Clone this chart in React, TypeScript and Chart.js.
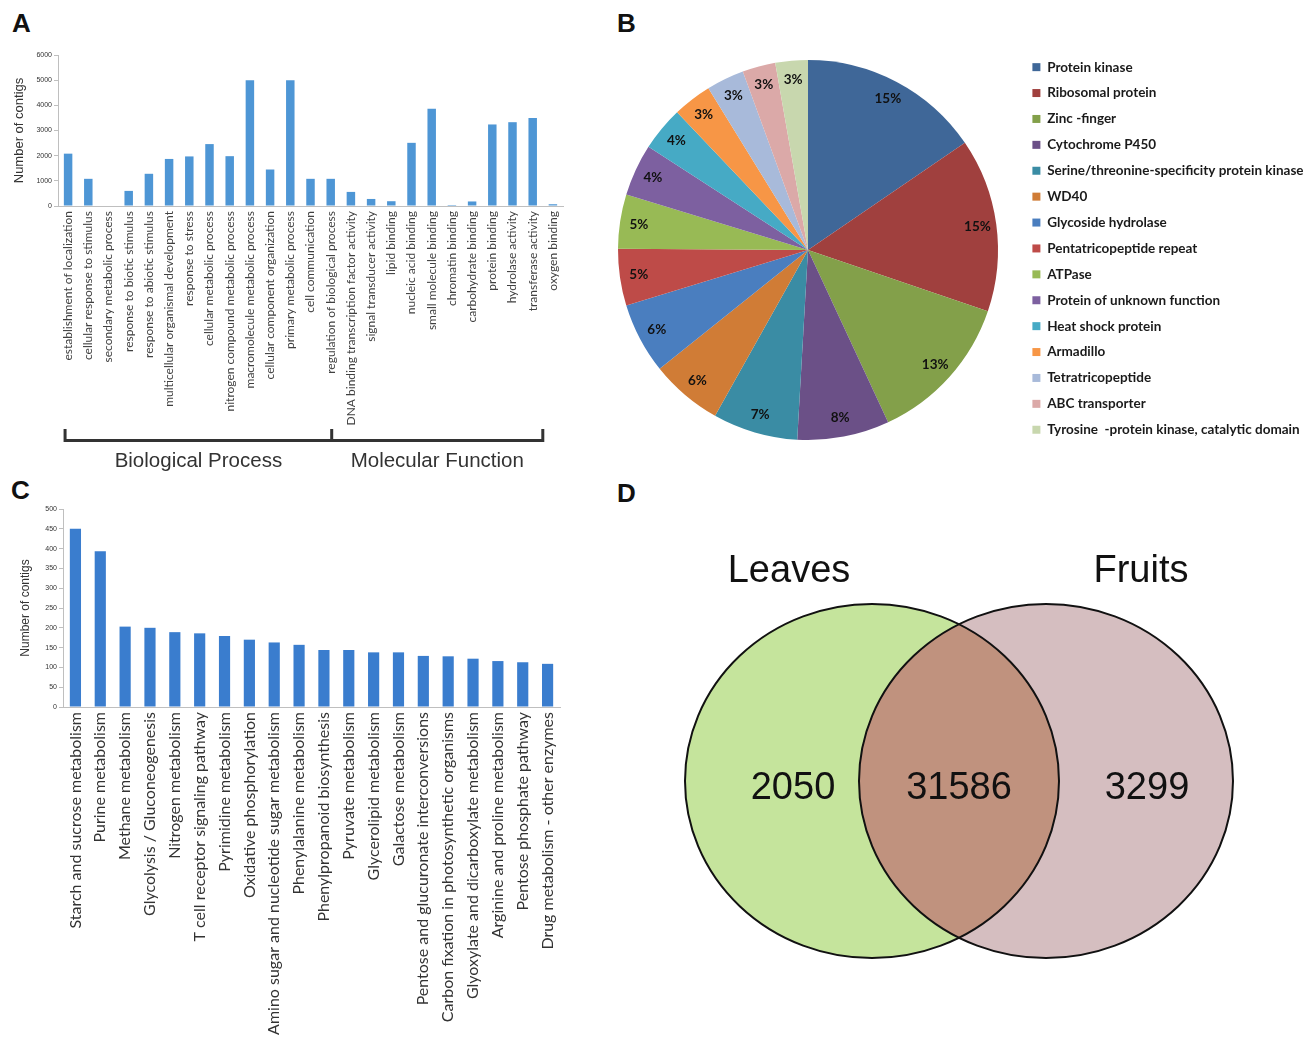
import React, { useEffect, useRef } from "react";
import { Chart, registerables } from "chart.js";

Chart.register(...registerables);

// ---------- Panel A: GO categories ----------
const goCategories = [
  "establishment of localization",
  "cellular response to stimulus",
  "secondary metabolic process",
  "response to biotic stimulus",
  "response to abiotic stimulus",
  "multicellular organismal development",
  "response to stress",
  "cellular metabolic process",
  "nitrogen compound metabolic process",
  "macromolecule metabolic process",
  "cellular component organization",
  "primary metabolic process",
  "cell communication",
  "regulation of biological process",
  "DNA binding transcription factor activity",
  "signal transducer activity",
  "lipid binding",
  "nucleic acid binding",
  "small molecule binding",
  "chromatin binding",
  "carbohydrate binding",
  "protein binding",
  "hydrolase activity",
  "transferase activity",
  "oxygen binding",
];
const goCounts = [
  2080, 1080, 0, 600, 1280, 1870, 1970, 2460, 1980, 5000, 1450, 5000, 1080,
  1080, 560, 280, 190, 2510, 3860, 40, 180, 3240, 3330, 3500, 70,
];
const goGroups = ["Biological Process", "Molecular Function"];
const goGroupSizes = [14, 11];
const goTicks = [0, 1000, 2000, 3000, 4000, 5000, 6000];

// ---------- Panel B: protein domains ----------
const domainNames = [
  "Protein kinase",
  "Ribosomal protein",
  "Zinc -finger",
  "Cytochrome P450",
  "Serine/threonine-specificity protein kinase",
  "WD40",
  "Glycoside hydrolase",
  "Pentatricopeptide repeat",
  "ATPase",
  "Protein of unknown function",
  "Heat shock protein",
  "Armadillo",
  "Tetratricopeptide",
  "ABC transporter",
  "Tyrosine  -protein kinase, catalytic domain",
];
const domainShares = [15.4, 14.7, 12.8, 7.8, 7.2, 6.1, 6.0, 4.8, 4.6, 4.4, 3.75, 3.3, 3.2, 2.8, 2.75];
const domainLabels = ["15%", "15%", "13%", "8%", "7%", "6%", "6%", "5%", "5%", "4%", "4%", "3%", "3%", "3%", "3%"];
const domainColors = [
  "#3F6798", "#A0403E", "#83A04A", "#6B5087", "#3A8CA4", "#D07C36", "#4A7EBF",
  "#BE4B48", "#98BA55", "#7D60A0", "#46AAC5", "#F79646", "#A8BADA", "#DBA9A8", "#C8D7AE",
];

// ---------- Panel C: KEGG pathways ----------
const keggPathways = [
  "Starch and sucrose metabolism",
  "Purine metabolism",
  "Methane metabolism",
  "Glycolysis / Gluconeogenesis",
  "Nitrogen metabolism",
  "T cell receptor signaling pathway",
  "Pyrimidine metabolism",
  "Oxidative phosphorylation",
  "Amino sugar and nucleotide sugar metabolism",
  "Phenylalanine metabolism",
  "Phenylpropanoid biosynthesis",
  "Pyruvate metabolism",
  "Glycerolipid metabolism",
  "Galactose metabolism",
  "Pentose and glucuronate interconversions",
  "Carbon fixation in photosynthetic organisms",
  "Glyoxylate and dicarboxylate metabolism",
  "Arginine and proline metabolism",
  "Pentose phosphate pathway",
  "Drug metabolism - other enzymes",
];
const keggCounts = [450, 393, 203, 200, 189, 186, 179, 170, 163, 157, 144, 144, 138, 138, 129, 128, 122, 116, 113, 109];

// ---------- Panel D: Venn ----------
const vennSets = ["Leaves", "Fruits"];
const vennCounts = [2050, 31586, 3299]; // leaves only, shared, fruits only

const VENN_RX = 187;
const VENN_RY = 177;
const LATO = "Lato, 'Liberation Sans', sans-serif";
const ARIAL = "'Liberation Sans', Arial, sans-serif";

const plainTick = (v: any) => String(v);

const goBracketPlugin = {
  id: "goBracket",
  afterDraw(chart: any) {
    const x = chart.scales.x;
    const ctx = chart.ctx;
    const base = chart.chartArea.bottom;
    const step = x.getPixelForValue(1) - x.getPixelForValue(0);
    const left = x.getPixelForValue(0) - 0.15 * step;
    const mid = x.getPixelForValue(goGroupSizes[0] - 1) + 0.05 * step;
    const right = x.getPixelForValue(goGroupSizes[0] + goGroupSizes[1] - 1) - 0.5 * step;
    const yTop = base + 223;
    const yBot = base + 236;
    ctx.save();
    ctx.strokeStyle = "#333";
    ctx.lineWidth = 3;
    ctx.beginPath();
    ctx.moveTo(left, yTop);
    ctx.lineTo(left, yBot);
    ctx.moveTo(mid, yTop);
    ctx.lineTo(mid, yBot);
    ctx.moveTo(right, yTop);
    ctx.lineTo(right, yBot);
    ctx.moveTo(left, yBot - 1.5);
    ctx.lineTo(right, yBot - 1.5);
    ctx.stroke();
    ctx.fillStyle = "#333";
    ctx.font = `20.5px ${ARIAL}`;
    ctx.textAlign = "center";
    ctx.textBaseline = "middle";
    ctx.fillText(goGroups[0], (left + mid) / 2, base + 255);
    ctx.fillText(goGroups[1], (mid + right) / 2, base + 255);
    ctx.restore();
  },
};

const pieLabelPlugin = {
  id: "pieLabels",
  afterDatasetsDraw(chart: any) {
    const ctx = chart.ctx;
    const meta = chart.getDatasetMeta(0);
    ctx.save();
    ctx.fillStyle = "#111";
    ctx.font = `bold 13.5px ${LATO}`;
    ctx.textAlign = "center";
    ctx.textBaseline = "middle";
    meta.data.forEach((arc: any, i: number) => {
      const p = arc.getProps(["x", "y", "startAngle", "endAngle", "outerRadius"], true);
      const a = (p.startAngle + p.endAngle) / 2;
      const r = p.outerRadius * 0.9;
      ctx.fillText(domainLabels[i], p.x + Math.cos(a) * r, p.y + Math.sin(a) * r);
    });
    ctx.restore();
  },
};

const vennFills = ["#C5E49C", "#D5BEC0"];
const vennOverlap = "#C0927E";

const vennPlugin = {
  id: "venn",
  afterDatasetsDraw(chart: any) {
    const ctx = chart.ctx;
    const [a, b] = chart.getDatasetMeta(0).data;
    const shape = (p: any) => {
      ctx.beginPath();
      ctx.ellipse(p.x, p.y, VENN_RX, VENN_RY, 0, 0, Math.PI * 2);
    };
    ctx.save();
    [a, b].forEach((p: any, i: number) => {
      shape(p);
      ctx.fillStyle = vennFills[i];
      ctx.fill();
    });
    ctx.save();
    shape(a);
    ctx.clip();
    shape(b);
    ctx.fillStyle = vennOverlap;
    ctx.fill();
    ctx.restore();
    ctx.lineWidth = 2;
    ctx.strokeStyle = "#111";
    [a, b].forEach((p: any) => {
      shape(p);
      ctx.stroke();
    });
    ctx.fillStyle = "#111";
    ctx.textAlign = "center";
    ctx.textBaseline = "middle";
    ctx.font = `38px ${ARIAL}`;
    ctx.fillText(vennSets[0], a.x - 83, a.y - 209);
    ctx.fillText(vennSets[1], b.x + 95, b.y - 209);
    ctx.fillText(String(vennCounts[0]), a.x - 79, a.y + 8);
    ctx.fillText(String(vennCounts[1]), (a.x + b.x) / 2, a.y + 8);
    ctx.fillText(String(vennCounts[2]), b.x + 101, b.y + 8);
    ctx.restore();
  },
};

function configA(): any {
  return {
    type: "bar",
    data: {
      labels: goCategories,
      datasets: [{ data: goCounts, backgroundColor: "#4E96D5", barPercentage: 0.42, categoryPercentage: 1 }],
    },
    options: {
      responsive: false,
      animation: false,
      layout: { padding: { top: 15, right: 17, bottom: 10, left: 0 } },
      plugins: { legend: { display: false }, tooltip: { enabled: false } },
      scales: {
        x: {
          grid: { display: false, drawTicks: false },
          border: { color: "#bfbfbf" },
          ticks: { autoSkip: false, minRotation: 90, maxRotation: 90, padding: 5, color: "#404040", font: { family: LATO, size: 12 } },
          afterFit: (s: any) => { s.height = 259; },
        },
        y: {
          min: 0,
          max: 6000,
          afterBuildTicks: (s: any) => { s.ticks = goTicks.map((v) => ({ value: v })); },
          ticks: { color: "#333", font: { family: ARIAL, size: 7 }, padding: 2, callback: plainTick },
          grid: { drawOnChartArea: false, tickLength: 4, color: "#bfbfbf" },
          border: { color: "#bfbfbf" },
          title: { display: true, text: "Number of contigs", color: "#333", font: { family: ARIAL, size: 13 }, padding: { top: 12, bottom: 0 } },
          afterFit: (s: any) => { s.width = 58; },
        },
      },
    },
    plugins: [goBracketPlugin],
  };
}

function configB(): any {
  return {
    type: "pie",
    data: {
      labels: domainNames,
      datasets: [{ data: domainShares, backgroundColor: domainColors, borderWidth: 0, radius: 190 }],
    },
    options: {
      responsive: false,
      animation: false,
      layout: { padding: { top: 0, right: 0, bottom: 0, left: 6 } },
      plugins: {
        tooltip: { enabled: false },
        legend: {
          position: "right",
          align: "start",
          maxWidth: 293,
          labels: { boxWidth: 8, boxHeight: 8, padding: 12.4, color: "#1a1a1a", font: { family: LATO, size: 13.5, weight: "bold" } },
        },
      },
    },
    plugins: [pieLabelPlugin],
  };
}

function configC(): any {
  return {
    type: "bar",
    data: {
      labels: keggPathways,
      datasets: [{ data: keggCounts, backgroundColor: "#3A7DCE", barPercentage: 0.45, categoryPercentage: 1 }],
    },
    options: {
      responsive: false,
      animation: false,
      layout: { padding: { top: 14, right: 20, bottom: 0, left: 0 } },
      plugins: { legend: { display: false }, tooltip: { enabled: false } },
      scales: {
        x: {
          grid: { display: false, drawTicks: false },
          border: { color: "#bfbfbf" },
          ticks: { autoSkip: false, minRotation: 90, maxRotation: 90, padding: 5, color: "#333", font: { family: LATO, size: 16 } },
          afterFit: (s: any) => { s.height = 332; },
        },
        y: {
          min: 0,
          max: 500,
          ticks: { stepSize: 50, color: "#333", font: { family: ARIAL, size: 7 }, padding: 2, callback: plainTick },
          grid: { drawOnChartArea: false, tickLength: 4, color: "#bfbfbf" },
          border: { color: "#bfbfbf" },
          title: { display: true, text: "Number of contigs", color: "#333", font: { family: ARIAL, size: 12 }, padding: { top: 18, bottom: 0 } },
          afterFit: (s: any) => { s.width = 63; },
        },
      },
    },
  };
}

function configD(): any {
  return {
    type: "scatter",
    data: {
      datasets: [
        {
          data: [{ x: -1, y: 0 }, { x: 1, y: 0 }],
          pointRadius: 0,
          pointHoverRadius: 0,
          clip: false,
        },
      ],
    },
    options: {
      responsive: false,
      animation: false,
      layout: { padding: 0, autoPadding: false },
      events: [],
      scales: {
        x: { display: false, min: -4.023, max: 4.023 },
        y: { display: false, min: -1, max: 1 },
      },
      plugins: { legend: { display: false }, tooltip: { enabled: false } },
    },
    plugins: [vennPlugin],
  };
}

function ChartCanvas(props: { make: () => any; left: number; top: number; width: number; height: number }) {
  const ref = useRef<HTMLCanvasElement | null>(null);
  useEffect(() => {
    if (!ref.current) return;
    const chart = new Chart(ref.current, props.make());
    return () => chart.destroy();
  }, []);
  return (
    <canvas
      ref={ref}
      width={props.width}
      height={props.height}
      style={{ position: "absolute", left: props.left, top: props.top, width: props.width, height: props.height }}
    />
  );
}

const letterStyle = (left: number, top: number): React.CSSProperties => ({
  position: "absolute",
  left,
  top,
  font: `bold 26px ${ARIAL}`,
  lineHeight: "26px",
  color: "#111",
});

export default function App() {
  return (
    <div style={{ position: "absolute", left: 0, top: 0, width: 1313, height: 1039, overflow: "hidden", background: "#fff" }}>
      <div style={letterStyle(12, 10)}>A</div>
      <div style={letterStyle(617, 10)}>B</div>
      <div style={letterStyle(11, 477)}>C</div>
      <div style={letterStyle(617, 480)}>D</div>
      <ChartCanvas make={configA} left={0} top={40} width={580} height={435} />
      <ChartCanvas make={configB} left={590} top={48} width={723} height={404} />
      <ChartCanvas make={configC} left={0} top={495} width={580} height={544} />
      <ChartCanvas make={configD} left={609} top={523} width={700} height={516} />
    </div>
  );
}
